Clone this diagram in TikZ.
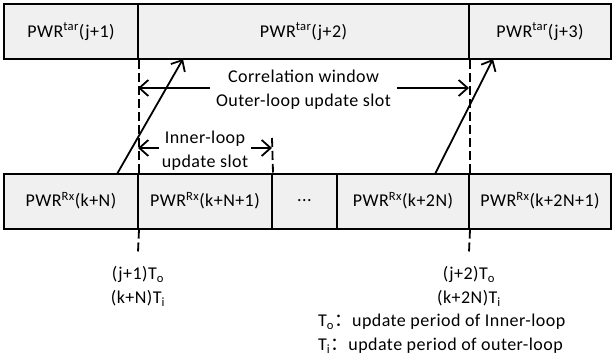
\documentclass[tikz,border=0pt]{standalone}
\usepackage{fontspec}
\setmainfont[LetterSpace=2.5]{Carlito}
\newfontfamily\cjk{Noto Sans CJK SC}
\usetikzlibrary{arrows.meta}
\tikzset{
  cell/.style={draw=black, line width=2pt, fill=black!6, minimum height=55pt,
    inner sep=0pt, font=\fontsize{18}{22}\selectfont},
  dashline/.style={draw=black, line width=1.8pt, dash pattern=on 9pt off 4pt},
  barb/.style={draw=black, line width=1.8pt, -{Straight Barb[length=9pt,width=16pt,line width=1.8pt]}},
  lbl/.style={inner sep=0pt, align=center, font=\fontsize{18}{23.5}\selectfont},
}
\newcommand{\To}{T\textsubscript{o}}
\newcommand{\Ti}{T\textsubscript{i}}
\begin{document}
\begin{tikzpicture}[x=1pt,y=-1pt]
\useasboundingbox (0,0) rectangle (615,361);
% target power slots (outer loop)
\node[cell, minimum width=134pt] (t1) at (71,31.5) {PWR\textsuperscript{tar}(j+1)};
\node[cell, minimum width=331pt] (t2) at (303.5,31.5) {PWR\textsuperscript{tar}(j+2)};
\node[cell, minimum width=142pt] (t3) at (540,31.5) {PWR\textsuperscript{tar}(j+3)};
% received power slots (inner loop)
\node[cell, minimum width=134pt] (b1) at (71,201) {PWR\textsuperscript{Rx}(k+N)};
\node[cell, minimum width=134pt] (b2) at (205,201) {PWR\textsuperscript{Rx}(k+N+1)};
\node[cell, minimum width=65pt] (b3) at (304.5,201) {...};
\node[cell, minimum width=132pt] (b4) at (403,201) {PWR\textsuperscript{Rx}(k+2N)};
\node[cell, minimum width=142pt] (b5) at (540,201) {PWR\textsuperscript{Rx}(k+2N+1)};
% slot boundaries
\coordinate (m1) at (138,252);
\coordinate (m2) at (469,252);
\coordinate (m3) at (272,138);
\draw[dashline] (t1.south east) -- (b1.north east);
\draw[dashline] (t2.south east) -- (b4.north east);
\draw[dashline] (b1.south east) -- (m1);
\draw[dashline] (b4.south east) -- (m2);
\draw[dashline] (m3) -- (b2.north east);
% correlation window
\coordinate (c1) at (138,88);
\coordinate (c2) at (469,88);
\node[lbl, inner xsep=6pt] (corr) at (303.5,89.5) {Correlation window\\Outer-loop update slot};
\draw[barb] (corr.west |- c1) -- (c1);
\draw[barb] (corr.east |- c2) -- (c2);
% inner-loop slot
\coordinate (i1) at (138,148);
\coordinate (i2) at (272,148);
\node[lbl, inner xsep=3pt] (inner) at (205,150.5) {Inner-loop\\update slot};
\draw[barb] (inner.west |- i1) -- (i1);
\draw[barb] (inner.east |- i2) -- (i2);
% target updates
\coordinate (u1) at (117,174);
\coordinate (v1) at (183,59);
\coordinate (u2) at (435,174);
\coordinate (v2) at (493,59);
\draw[barb] (u1) -- (v1);
\draw[barb] (u2) -- (v2);
% time instants
\node[lbl] (l1) at (138,286.5) {(j+1)\To\\(k+N)\Ti};
\node[lbl] (l2) at (469,286.5) {(j+2)\To\\(k+2N)\Ti};
% legend
\node[lbl, anchor=west] (g1) at (318,322) {\To{\cjk ：}update period of Inner-loop};
\node[lbl, anchor=west] (g2) at (318,346) {\Ti{\cjk ：}update period of outer-loop};
\end{tikzpicture}
\end{document}
